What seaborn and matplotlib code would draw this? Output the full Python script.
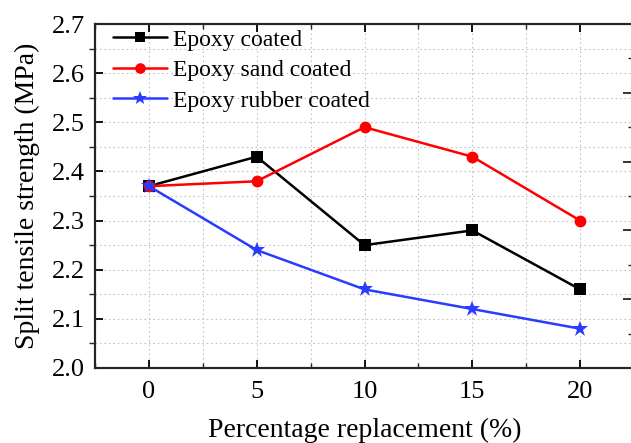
import matplotlib
matplotlib.use("Agg")
import matplotlib.pyplot as plt
import seaborn as sns
import pandas as pd
from matplotlib.ticker import MultipleLocator, NullFormatter

replacement = [0, 5, 10, 15, 20]
epoxy_coated = [2.37, 2.43, 2.25, 2.28, 2.16]
epoxy_sand_coated = [2.37, 2.38, 2.49, 2.43, 2.30]
epoxy_rubber_coated = [2.37, 2.24, 2.16, 2.12, 2.08]
series_names = ["Epoxy coated", "Epoxy sand coated", "Epoxy rubber coated"]

df = pd.DataFrame({
    "x": replacement * 3,
    "y": epoxy_coated + epoxy_sand_coated + epoxy_rubber_coated,
    "series": [series_names[0]] * 5 + [series_names[1]] * 5 + [series_names[2]] * 5,
})

sns.set_theme(style="ticks")
plt.rcParams["font.family"] = ["Liberation Serif", "DejaVu Serif"]
plt.rcParams["mathtext.fontset"] = "stix"

fig = plt.figure(figsize=(6.31, 4.43), dpi=100)
ax = fig.add_axes([95 / 631, 1 - 368 / 443, (634 - 95) / 631, (368 - 24) / 443])

palette = {series_names[0]: "black", series_names[1]: "#ff0000", series_names[2]: "#2a3cff"}
markers = {series_names[0]: "s", series_names[1]: "o", series_names[2]: "*"}
sizes = {series_names[0]: 8, series_names[1]: 8.5, series_names[2]: 12}

for name in series_names:
    sub = df[df["series"] == name]
    sns.lineplot(data=sub, x="x", y="y", ax=ax, color=palette[name], marker=markers[name],
                 markersize=sizes[name], markeredgewidth=0, linewidth=1.8, label=name,
                 estimator=None, sort=False, zorder=3)

ax.set_xlim(-2.5, 22.5)
ax.set_ylim(2.0, 2.7)
ax.xaxis.set_major_locator(MultipleLocator(5))
ax.xaxis.set_minor_locator(MultipleLocator(2.5))
ax.yaxis.set_major_locator(MultipleLocator(0.1))
ax.yaxis.set_minor_locator(MultipleLocator(0.05))
ax.yaxis.set_major_formatter(matplotlib.ticker.FormatStrFormatter("%.1f"))

ax.grid(True, which="both", linestyle=(0, (1.5, 2.5)), color="#c4c4c4", linewidth=0.8, zorder=0)

for s in ax.spines.values():
    s.set_linewidth(1.5)
    s.set_color("black")

ax.tick_params(axis="x", which="major", direction="in", length=6, width=1.3, top=True,
               labelsize=19, pad=9, colors="black")
ax.tick_params(axis="x", which="minor", direction="in", length=3.5, width=1.0, top=True)
ax.tick_params(axis="y", which="major", direction="in", length=6, width=1.3, right=False,
               labelsize=19, pad=7, colors="black")
ax.tick_params(axis="y", which="minor", direction="out", length=4, width=1.0, right=False)

# right-hand axis ticks (unlabelled)
ax2 = ax.twinx()
ax2.set_ylim(0, 5)
ax2.yaxis.set_major_locator(MultipleLocator(1))
ax2.yaxis.set_minor_locator(MultipleLocator(0.5))
ax2.yaxis.set_major_formatter(NullFormatter())
ax2.tick_params(axis="y", which="major", direction="in", length=8, width=1.3)
ax2.tick_params(axis="y", which="minor", direction="in", length=4, width=1.0)
ax2.grid(False)
for s in ax2.spines.values():
    s.set_linewidth(1.5)

ax.set_xlabel("Percentage replacement (%)", fontsize=20, labelpad=11, color="black")
ax.set_ylabel("Split tensile strength (MPa)", fontsize=20, labelpad=9, color="black")

leg = ax.legend(loc="upper left", frameon=False, fontsize=17, handlelength=2.3,
                handletextpad=0.25, labelspacing=0.38, borderaxespad=0.0,
                borderpad=0.0, bbox_to_anchor=(18 / 539, 1 - 5 / 344), markerscale=0.9)
for t in leg.get_texts():
    t.set_color("black")

fig.savefig("out.png", dpi=100)
